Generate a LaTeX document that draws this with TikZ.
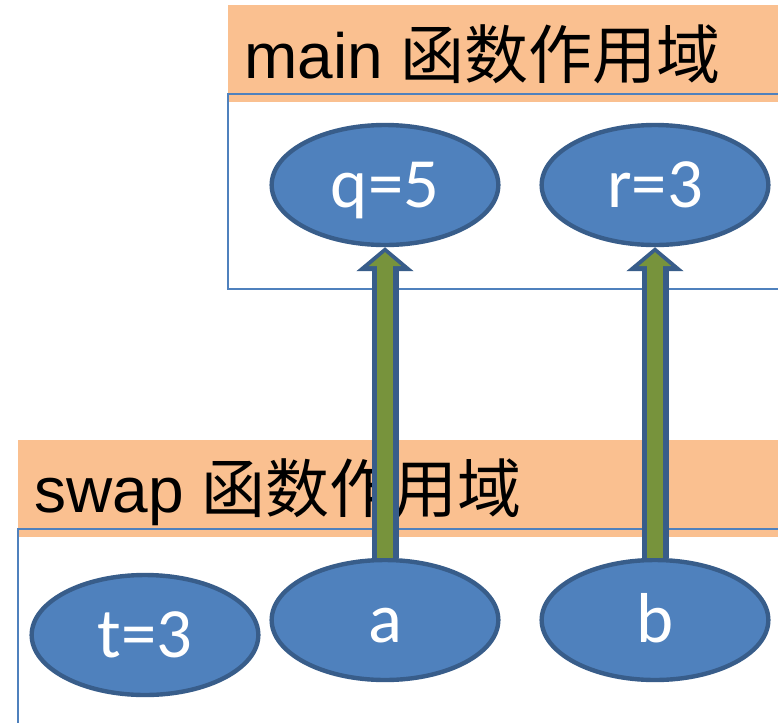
\documentclass[tikz,border=0pt]{standalone}
\usepackage{fontspec}
\setmainfont{Liberation Sans}
\newfontfamily\cjk{Noto Sans CJK SC}
\newfontfamily\calibri{Carlito}
\usepackage{tikz}
\usetikzlibrary{shapes.geometric,arrows.meta}
\definecolor{headorange}{HTML}{FAC090}
\definecolor{boxblue}{HTML}{4F81BD}
\definecolor{rimblue}{HTML}{385D8A}
\definecolor{arrowgreen}{HTML}{77933C}

\begin{document}
\begin{tikzpicture}[x=0.75pt,y=-0.75pt,
    scopebox/.style={draw=boxblue,line width=1.1pt},
    var/.style={ellipse,fill=boxblue,draw=rimblue,line width=3.3pt,
                minimum width=170pt,minimum height=90pt,inner sep=0pt,
                text=white,font=\calibri\fontsize{53}{53}\selectfont,
                text height=33pt,text depth=0pt},
    title/.style={anchor=base west,inner sep=0pt,
                  font=\fontsize{48}{48}\selectfont},
    passout/.style={draw=rimblue,line width=20.25pt,
                    -{Triangle[width=42pt,length=18pt]}},
    passin/.style={draw=arrowgreen,line width=11.5pt,shorten >=3.75pt,
                   -{Triangle[width=24pt,length=10.5pt]}}]

  \useasboundingbox [fill=white] (0,0) rectangle (778,722);

  \fill [headorange] (228,5) rectangle (790,102);
  \draw [scopebox] (228,94) rectangle (790,289);
  \node [title] (mainlabel) at (244,78) {main {\cjk 函数作用域}};

  \fill [headorange] (18,440) rectangle (790,537);
  \draw [scopebox] (18,529) rectangle (790,740);
  \node [title] (swaplabel) at (34,512) {swap {\cjk 函数作用域}};

  \node [var] (q) at (385,185) {q=5};
  \node [var] (r) at (655,185) {r=3};

  \node [var] (t) at (145,635) {t=3};
  \node [var] (a) at (385,620) {a};
  \node [var] (b) at (655,620) {b};

  \draw [passout] (a.north) -- (q.south);
  \draw [passin] (a.north) -- (q.south);
  \draw [passout] (b.north) -- (r.south);
  \draw [passin] (b.north) -- (r.south);

\end{tikzpicture}
\end{document}
